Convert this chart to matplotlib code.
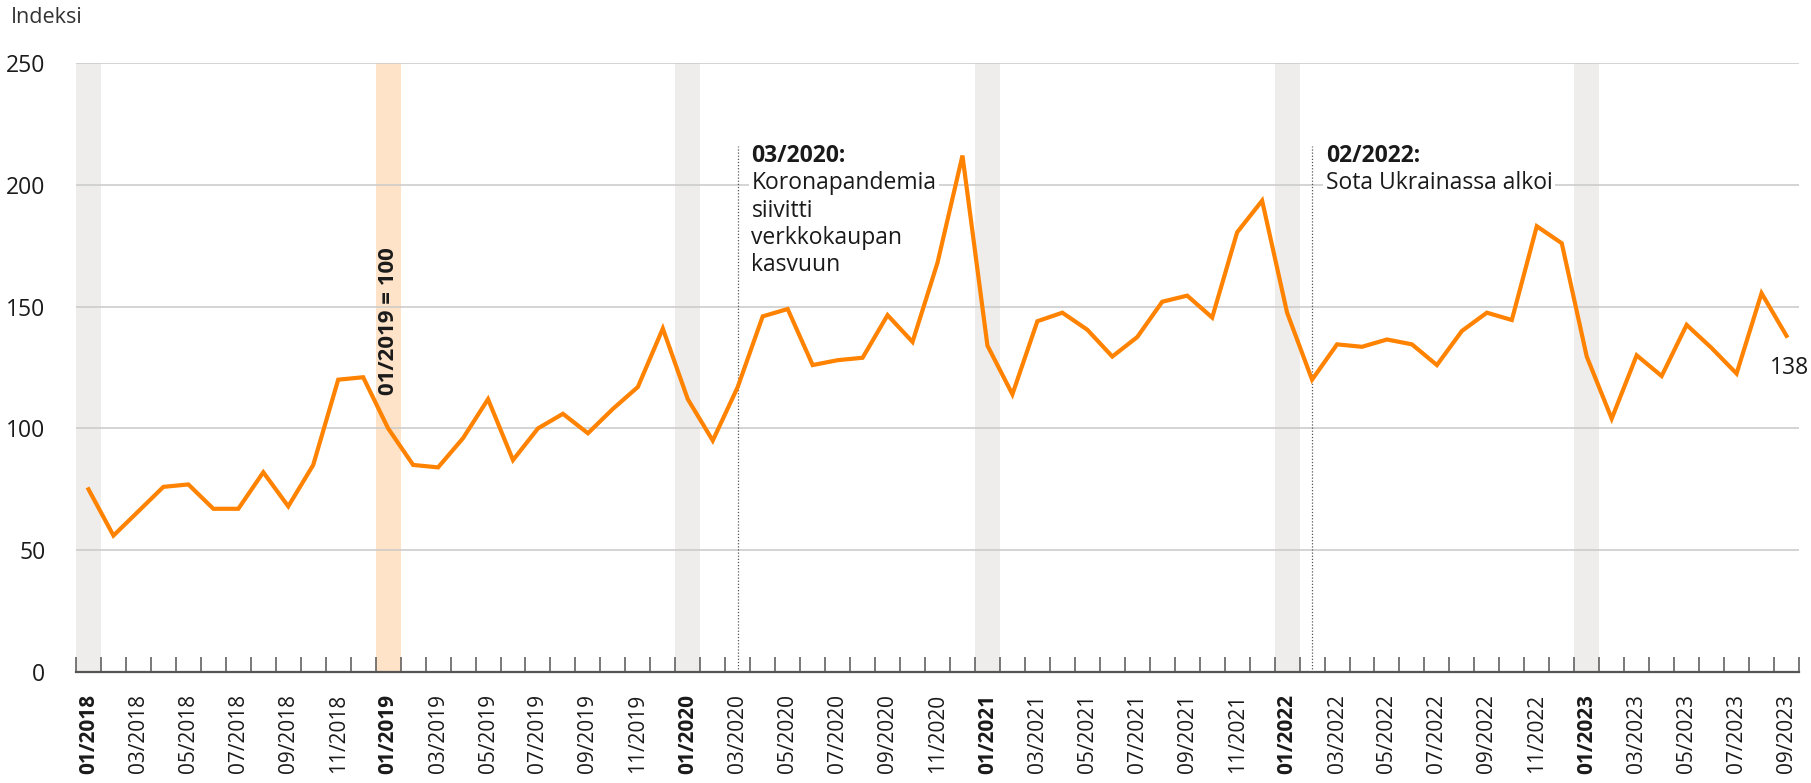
import matplotlib
matplotlib.use('Agg')
import matplotlib.pyplot as plt
import matplotlib.transforms as mtransforms
import numpy as np

plt.rcParams['font.family'] = ['Open Sans', 'DejaVu Sans']

# monthly index values 01/2018 - 09/2023 (01/2019 = 100)
months = [f'{m:02d}/{y}' for y in range(2018, 2024) for m in range(1, 13)][:69]
values = [75, 56, 66, 76, 77, 67, 67, 82, 68, 85, 120, 121,
          100, 85, 84, 96, 112, 87, 100, 106, 98, 108, 117, 141,
          112, 95, 117, 146, 149, 126, 128, 129, 146.5, 135.5, 168, 212,
          134, 114, 144, 147.5, 140.5, 129.5, 137.5, 152, 154.5, 145.5, 180.5, 193.5,
          147.5, 120, 134.5, 133.5, 136.5, 134.5, 126, 140, 147.5, 144.5, 183, 176,
          129.5, 104, 130, 121.5, 142.5, 133, 122.5, 155.5, 138]
events = [('03/2020', '03/2020:', 'Koronapandemia\nsiivitti\nverkkokaupan\nkasvuun'),
          ('02/2022', '02/2022:', 'Sota Ukrainassa alkoi')]
base_month = '01/2019'
yticks = [0, 50, 100, 150, 200, 250]

orange = '#ff8200'
dark = '#1a1a1a'

fig = plt.figure(figsize=(18.11, 7.83), dpi=100)
ax = fig.add_axes([0.04197, 0.14176, 0.9514, 0.77778])

x = np.arange(len(months)) + 0.5

# January bands
for i, m in enumerate(months):
    if m.startswith('01/'):
        col = '#fee3c8' if m == base_month else '#eeedeb'
        ax.axvspan(i, i + 1, color=col, lw=0, zorder=0)

ax.set_ylim(0, 250)
ax.set_xlim(0, len(months))
ax.set_yticks(yticks)
ax.set_yticklabels([str(t) for t in yticks], fontsize=16.5, color=dark)
for t in yticks[1:]:
    ax.axhline(t, color='#c9c9c9', lw=1.1, zorder=1)

ax.plot(x, values, color=orange, lw=3, solid_joinstyle='miter', zorder=5)

# event annotations
for m, head, body in events:
    i = months.index(m)
    ax.plot([x[i], x[i]], [0, 216], color='#555555', lw=0.9, ls=(0, (1, 1.5)), zorder=4)
    ax.text(x[i] + 0.55, 212, head, fontsize=16.5, fontweight='bold', color=dark,
            va='center', ha='left', zorder=3)
    ax.text(x[i] + 0.55, 205.5, body, fontsize=16.5, color=dark, va='top', ha='left',
            linespacing=1.18, zorder=3,
            bbox=dict(facecolor='white', edgecolor='none', pad=2))

bi = months.index(base_month)
ax.text(x[bi], 144, '01/2019 = 100', rotation=90, fontsize=16, fontweight='bold',
        color=dark, ha='center', va='center', zorder=6)

trans = mtransforms.blended_transform_factory(fig.transFigure, ax.transData)
ax.text(0.999, values[-1] - 13, f'{values[-1]:.0f}', fontsize=16.5, color=dark,
        ha='right', va='center', transform=trans, clip_on=False)

# x axis: labels at month centres, ticks at boundaries
ax.set_xticks(x[::2])
labels = ax.set_xticklabels(months[::2], rotation=90, fontsize=15, color=dark)
for lab in labels:
    if lab.get_text().startswith('01/'):
        lab.set_fontweight('bold')
ax.set_xticks(np.arange(len(months) + 1), minor=True)
ax.tick_params(axis='x', which='major', length=0, pad=16)
ax.tick_params(axis='x', which='minor', direction='in', length=11, width=1.1, color='#555555')
ax.tick_params(axis='y', length=0, pad=22)

for s in ['top', 'right', 'left']:
    ax.spines[s].set_visible(False)
ax.spines['bottom'].set_color('#555555')
ax.spines['bottom'].set_linewidth(1.6)
ax.spines['bottom'].set_zorder(6)

fig.text(0.006, 0.978, 'Indeksi', fontsize=15.5, color='#333333', ha='left', va='center')

fig.savefig('out.png', dpi=100)
